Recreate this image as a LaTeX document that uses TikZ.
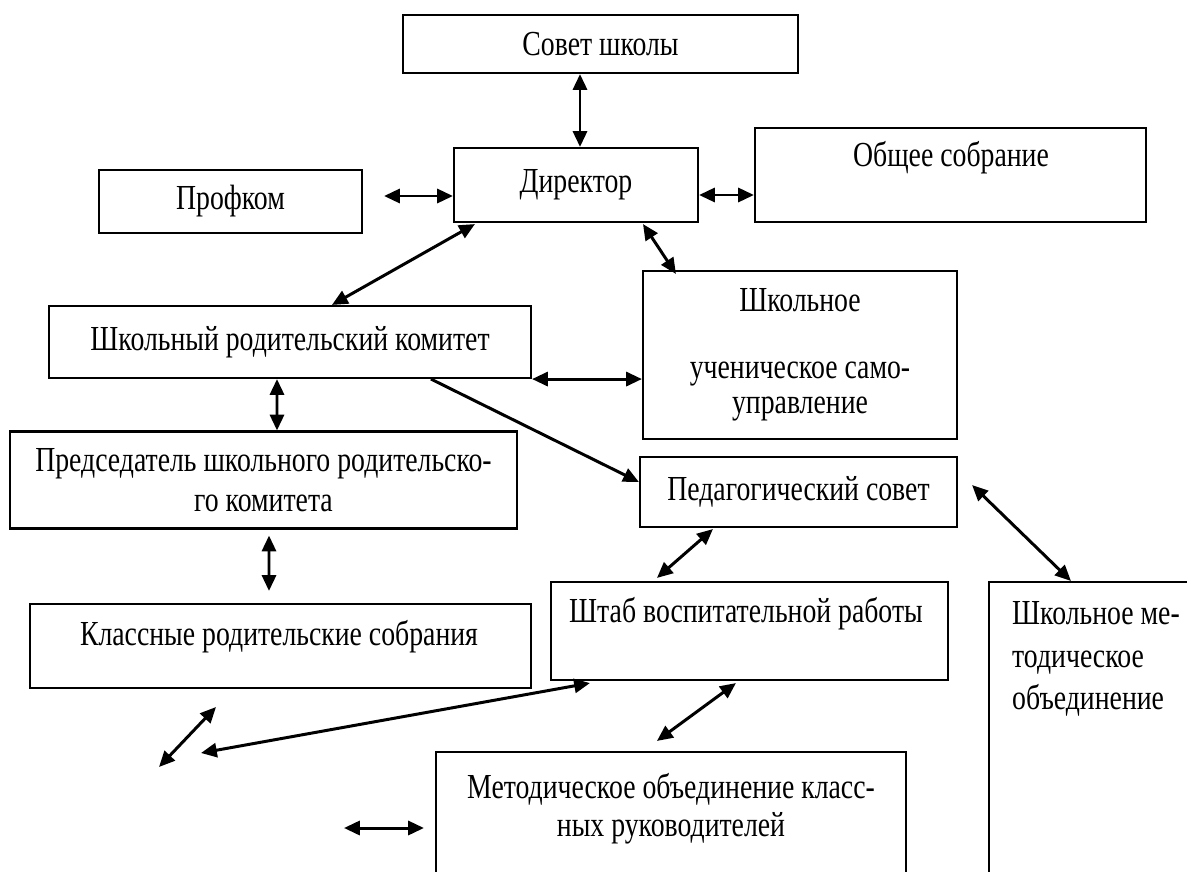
\documentclass[tikz,border=0pt]{standalone}
\usepackage{fontspec}
\setmainfont{Liberation Serif}[FakeStretch=0.79]
\usetikzlibrary{arrows.meta, calc, positioning}

\begin{document}
\begin{tikzpicture}[x=0.02cm, y=-0.02cm,
  box/.style={draw, line width=1.2pt, inner sep=0pt, align=center},
  sz/.style 2 args={minimum width=#1*0.02cm, minimum height=#2*0.02cm},
  link/.style={line width=1.7pt, {Triangle[length=9pt,width=8pt]}-{Triangle[length=9pt,width=8pt]}},
  onelink/.style={line width=1.7pt, -{Triangle[length=9pt,width=8pt]}},
  font=\fontsize{20}{22}\selectfont]

\clip (0,0) rectangle (1187,872);

% \draw[gray, very thin, step=50] (0,0) grid (1187,872);

\node[box, sz={395}{58}] (sovet) at (600.5,44) {Совет школы};
\node[box, sz={244}{74}] (direktor) at (576,185) {Директор};
\node[box, sz={263}{63}] (profkom) at (230.5,201.5) {Профком};
\node[box, sz={391}{94}] (obshee) at (950.5,175) {};
\node (obshee-t) at (951,158) {Общее собрание};

\node[box, sz={482}{72}] (shrk) at (290,342) {Школьный родительский комитет};
\node[box, sz={314}{168}, font=\fontsize{20}{20}\selectfont] (shus) at (800,355)
  {Школьное\\[18pt] ученическое само-\\ управление};

\node[box, sz={507}{97}, font=\fontsize{20}{22.7}\selectfont] (pred) at (263.5,480)
  {Председатель школьного родительско-\\го комитета};
\node[box, sz={317}{70}] (ped) at (798.5,492) {Педагогический совет};

\node[box, sz={501}{84}] (klass) at (280.5,646) {};
\node (klass-t) at (279,637) {Классные родительские собрания};
\node[box, sz={397}{98}] (shtab) at (749.5,631) {};
\node (shtab-t) at (746,614) {Штаб воспитательной работы};
\node[box, sz={260}{340}] (shmo) at (1119,752) {};
\node[anchor=west, align=left, font=\fontsize{20}{24.4}\selectfont] (shmo-t) at (1006,659)
  {Школьное ме-\\тодическое\\объединение};

\node[box, sz={470}{148}] (metod) at (671,826) {};
\node[align=center, font=\fontsize{20}{21.5}\selectfont] (metod-t) at (671,809)
  {Методическое объединение класс-\\ных руководителей};

% free ends
\coordinate (free1) at (201,753);
\coordinate (free2a) at (216,707);
\coordinate (free2b) at (159,767);
\coordinate (free3) at (344,828);

\draw[link] ($(sovet.south)+(-20.5,0)$) -- ($(direktor.north)+(4,0)$);
\draw[link] ($(profkom.east)+(21,-5.5)$) -- ($(direktor.west)+(0,11)$);
\draw[link] ($(direktor.east)+(0,10)$) -- ($(obshee.west)+(0,20)$);
\draw[link] ($(direktor.south west)+(22,1)$) -- ($(shrk.north west)+(284,0)$);
\draw[link] ($(direktor.south)+(67,1)$) -- ($(shus.north west)+(34,4)$);

\draw[link] (shrk.south east) -- (shrk.south east -| shus.west);
\draw[onelink] ($(shrk.south west)+(383,0)$) -- ($(ped.west)+(0,-10)$);
\draw[link] ($(shrk.south)+(-13,0)$) -- ($(pred.north)+(13.5,0)$);
\draw[link] ($(pred.south)+(5.5,6)$) -- ($(klass.north)+(-11.5,-12)$);

\draw[link] ($(ped.south west)+(74,1)$) -- ($(shtab.north west)+(107,-3)$);
\draw[link] ($(ped.east)+(14,-7)$) -- ($(shmo.north west)+(83,0)$);

\draw[link] ($(shtab.south west)+(40,2)$) -- (free1);
\draw[link] (free2a) -- (free2b);
\draw[link] ($(shtab.south west)+(186,2)$) -- ($(metod.north west)+(222,-10)$);
\draw[link] (free3) -- ($(metod.west)+(-11,2)$);

\end{tikzpicture}
\end{document}
